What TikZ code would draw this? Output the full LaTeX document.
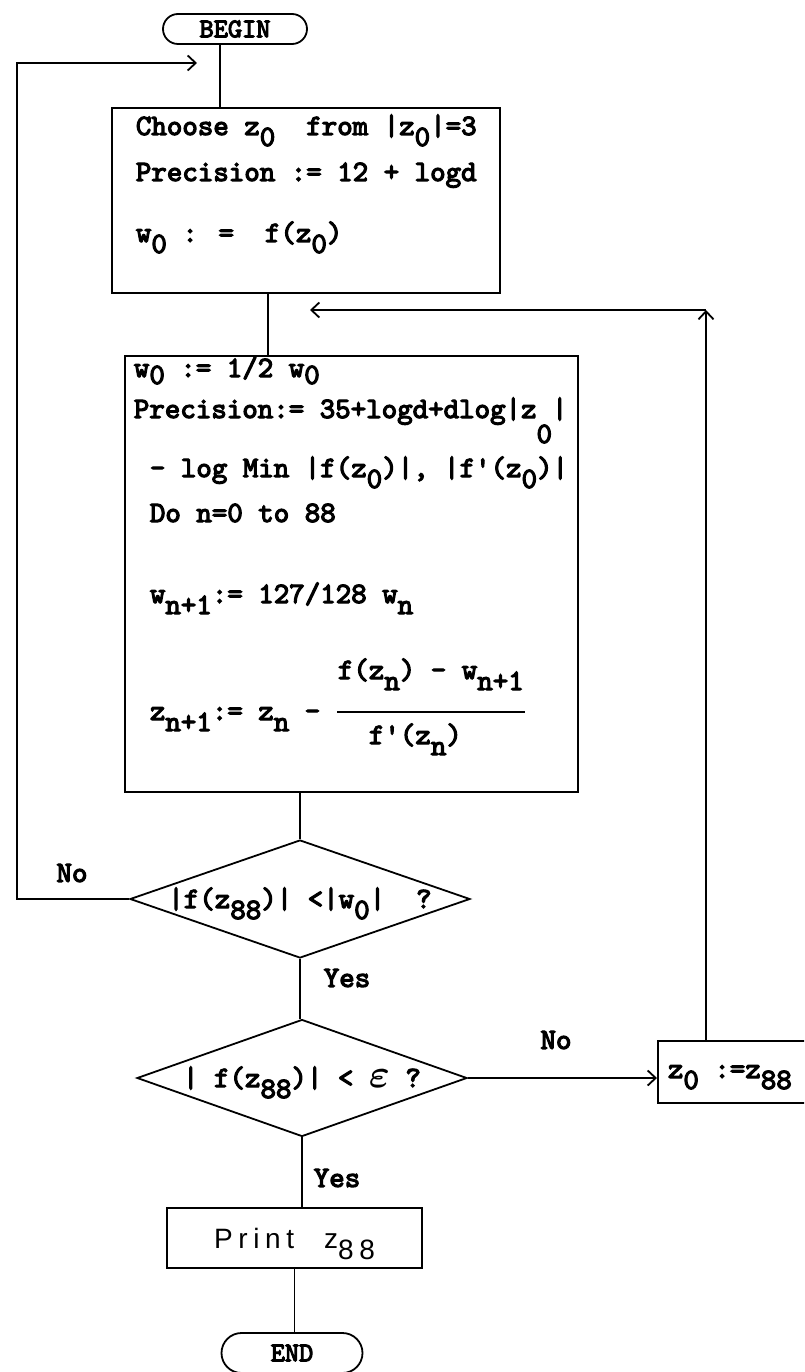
\documentclass[tikz,border=0pt]{standalone}
\usepackage{fontspec}
\usepackage{graphicx}
\usepackage{tikz}
\usetikzlibrary{arrows.meta, positioning, calc, shapes.geometric}
\newfontfamily\typer{lmmono10-regular}[Extension=.otf, FakeBold=4]
\newfontfamily\hand{Liberation Sans}[LetterSpace=20]
\newcommand\lowr[2][11pt]{\raisebox{-#1}[0pt][0pt]{#2}}

\begin{document}
\begin{tikzpicture}[x=1pt, y=-1pt, line width=1.8pt,
    txt/.style={font=\typer\fontsize{29.5}{34}\selectfont, inner sep=0pt, anchor=base west},
    lbl/.style={font=\typer\fontsize{29.5}{34}\selectfont, inner sep=0pt},
    box/.style={draw, inner sep=0pt},
    term/.style={draw, inner sep=0pt, font=\typer\fontsize{27}{30}\selectfont},
    test/.style={draw, diamond, aspect=3, inner sep=0pt, font=\typer\fontsize{29.5}{34}\selectfont},
    arr/.style={-{Straight Barb[length=8pt, width=15pt]}}]
    \useasboundingbox (0,0) rectangle (804,1372);
    \clip (0,0) rectangle (804,1372);

    \node[term, minimum width=144pt, minimum height=30pt, rounded corners=15pt] (begin) at (235,29) {BEGIN};
    \node[term, minimum width=141pt, minimum height=40pt, rounded corners=20pt] (end) at (292,1353) {END};

    \node[box, minimum width=388pt, minimum height=185pt] (init) at (306,200.5) {};
    \node[txt] (t1) at (135,135) {Choose z\lowr{0}\ \ from |z\lowr{0}|=3};
    \node[txt] (t2) at (135,181) {Precision := 12 + logd};
    \node[txt] (t3) at (135,242) {w\lowr{0} : =\ \ f(z\lowr{0})};

    \node[box, minimum width=453pt, minimum height=436pt] (iter) at (351.5,574) {};
    \node[txt] (t4) at (133,377) {w\lowr[7pt]{0} := 1/2 w\lowr[7pt]{0}};
    \node[txt] (t5) at (133,418) {Precision:= 35+logd+dlog|z\lowr[25pt]{0}|};
    \node[txt] (t6) at (149,477) {- log Min |f(z\lowr{0})|, |f\textquotesingle(z\lowr{0})|};
    \node[txt] (t7) at (149,522) {Do n=0 to 88};
    \node[txt] (t8) at (149,603) {w\lowr{n+1}:= 127/128 w\lowr{n}};
    \node[txt] (t9) at (149,720) {z\lowr{n+1}:= z\lowr{n} -};
    \node[txt] (num) at (337,679) {f(z\lowr{n}) - w\lowr{n+1}};
    \node[txt] (den) at (368,744) {f\textquotesingle(z\lowr{n})};
    \draw ($(num.base west)+(0,33)$) -- ($(num.base east)+(0,33)$);

    \node[test, minimum width=340pt, minimum height=118pt] (test1) at (300,899) {|f(z\lowr{88})| <|w\lowr{0}|\ \ ?};
    \node[test, minimum width=330pt, minimum height=117pt] (test2) at (302,1078) {| f(z\lowr{88})| < \scalebox{1.6}{\boldmath$\varepsilon$} ?};

    \node[box, minimum width=200pt, minimum height=62pt, anchor=north west] (swap) at (657,1040) {};
    \node[txt] (t10) at (667,1078) {z\lowr{0}\ :=z\lowr{88}};

    \node[box, minimum width=255pt, minimum height=60pt, font=\hand\fontsize{28}{32}\selectfont] (print) at (294.5,1238) {Print\hspace{30pt}z\lowr{88}};

    \node[lbl] (no1) at (72,873) {No};
    \node[lbl] (yes1) at (347,978) {Yes};
    \node[lbl] (no2) at (556,1040) {No};
    \node[lbl] (yes2) at (337,1178) {Yes};

    \coordinate (c1) at (220,0);
    \coordinate (c2) at (268,0);
    \coordinate (entry) at (197,63);
    \coordinate (loopL) at (17,63);
    \coordinate (retx) at (706,0);
    \coordinate (corner) at (706,310);
    \coordinate (back) at (310,310);

    \draw (begin.south -| c1) -- (init.north -| c1);
    \draw[arr] (test1.west) -| (loopL) -- (entry);
    \draw (init.south -| c2) -- (iter.north -| c2);
    \draw (iter.south -| test1.north) -- (test1.north);
    \draw (test1.south) -- (test1.south |- test2.north);
    \draw[arr] (test2.east) -- (test2.east -| swap.west);
    \draw (test2.south) -- (test2.south |- print.north);
    \draw (print.south) -- (print.south |- end.north);
    \draw[arr] (swap.north -| retx) -- (corner);
    \draw[arr] (corner) -- (back);
\end{tikzpicture}
\end{document}
